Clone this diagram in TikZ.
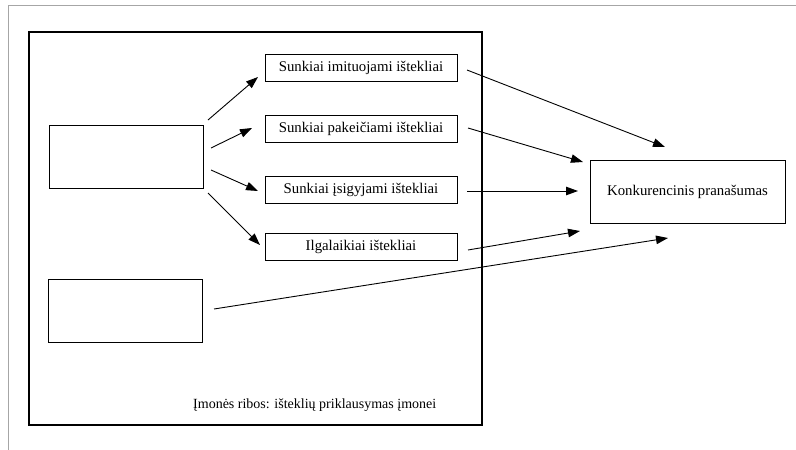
\documentclass[tikz,border=0pt]{standalone}
\usepackage{fontspec}
\setmainfont{Liberation Serif}
\usetikzlibrary{arrows.meta}
\begin{document}
\begin{tikzpicture}[x=1pt,y=-1pt,
  box/.style={draw,line width=0.9pt,inner sep=0pt,font=\fontsize{14.8}{16}\selectfont},
  arr/.style={line width=0.9pt,-{Triangle[length=12pt,width=8.5pt]}}]
\useasboundingbox (0,0) rectangle (796,450);
% faint outer frame
\draw[gray!70,line width=0.8pt] (8,450) -- (8,5) -- (796,5);
% firm boundary
\draw[line width=2.4pt] (29,32) rectangle (482,425);
% left empty boxes
\node[box,minimum width=154pt,minimum height=63pt] (L1) at (126,156.5) {};
\node[box,minimum width=154pt,minimum height=63pt] (L2) at (125,310.5) {};
% resource boxes
\node[box,minimum width=192pt,minimum height=27pt] (A) at (361,67.5) {Sunkiai imituojami ištekliai};
\node[box,minimum width=192pt,minimum height=27pt] (B) at (361,128.5) {Sunkiai pakeičiami ištekliai};
\node[box,minimum width=192pt,minimum height=27pt] (C) at (361,189.5) {Sunkiai įsigyjami ištekliai};
\node[box,minimum width=192pt,minimum height=27pt] (D) at (361,246.5) {Ilgalaikiai ištekliai};
% competitive advantage
\node[box,minimum width=195pt,minimum height=63pt] (K) at (687.5,191.5) {Konkurencinis pranašumas};
% boundary label
\node[font=\fontsize{14}{16}\selectfont,anchor=west,inner sep=0pt] (lbl) at (193,405) {Įmonės ribos: išteklių priklausymas įmonei};
% arrow endpoints
\coordinate (s1) at (208,120); \coordinate (t1) at (258,77);
\coordinate (s2) at (211,148); \coordinate (t2) at (252,128);
\coordinate (s3) at (211,170); \coordinate (t3) at (258,191);
\coordinate (s4) at (208,193); \coordinate (t4) at (260,245);
\coordinate (r1) at (467,70);  \coordinate (u1) at (665,147);
\coordinate (r2) at (468,128); \coordinate (u2) at (583,162);
\coordinate (r3) at (467,191); \coordinate (u3) at (578,191);
\coordinate (r4) at (468,250); \coordinate (u4) at (580,231);
\coordinate (r5) at (214,309); \coordinate (u5) at (668,238);
\draw[arr] (s1) -- (t1);
\draw[arr] (s2) -- (t2);
\draw[arr] (s3) -- (t3);
\draw[arr] (s4) -- (t4);
\draw[arr] (r1) -- (u1);
\draw[arr] (r2) -- (u2);
\draw[arr] (r3) -- (u3);
\draw[arr] (r4) -- (u4);
\draw[arr] (r5) -- (u5);
\end{tikzpicture}
\end{document}
